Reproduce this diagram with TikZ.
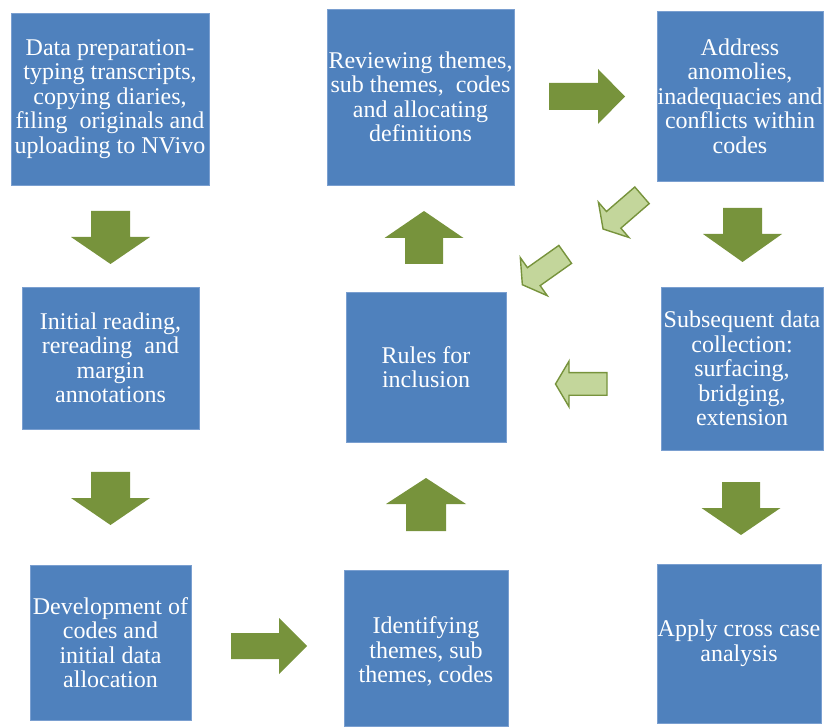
\documentclass[tikz,border=0pt]{standalone}
\usepackage{fontspec}
\setmainfont{Liberation Serif}
\definecolor{boxblue}{HTML}{4F81BD}
\definecolor{boxedge}{HTML}{7A9FD0}
\definecolor{olive}{HTML}{77933C}
\definecolor{paleolive}{HTML}{C3D69B}
\tikzset{
  stage/.style={rectangle, fill=boxblue, draw=boxedge, line width=0.7pt,
    inner sep=0pt, text=white, align=center,
    font=\fontsize{24}{24.5}\selectfont},
  mainarrow/.style={fill=olive, draw=none},
  feedarrow/.style={fill=paleolive, draw=olive, line width=1.4pt, line join=miter},
}
% block arrow: #1 style, (#2,#3) centre of the tail, #4 direction,
% #5 length, #6 shaft half-width, #7 head half-width, #8 head length
\newcommand\blockarr[8]{%
  \draw[#1, shift={(#2,#3)}, rotate=#4]
    (0,-#6) -- ({#5-#8},-#6) -- ({#5-#8},-#7) -- (#5,0)
    -- ({#5-#8},#7) -- ({#5-#8},#6) -- (0,#6) -- cycle;}
\begin{document}
\begin{tikzpicture}[x=1pt, y=1pt]
\useasboundingbox (0,0) rectangle (824,726);

% process stages
\node[stage, minimum width=198, minimum height=172] (prep) at (110,627)
  {Data preparation-\\typing transcripts,\\copying diaries,\\filing\ \ originals and\\uploading to NVivo};
\node[stage, minimum width=177, minimum height=142] (reading) at (110.5,368)
  {Initial reading,\\rereading\ \ and\\margin\\annotations};
\node[stage, minimum width=161, minimum height=155] (develop) at (110.5,83.5)
  {Development of\\codes and\\initial data\\allocation};
\node[stage, minimum width=164, minimum height=156] (identify) at (426,78)
  {};
\node[text=white, align=center, font=\fontsize{24}{24.5}\selectfont]
  (identifytext) at (426,74.5) {Identifying\\themes, sub\\themes, codes};
\node[stage, minimum width=160, minimum height=150] (rules) at (426,359)
  {Rules for\\inclusion};
\node[stage, minimum width=187, minimum height=176] (review) at (420.5,629)
  {Reviewing themes,\\sub themes,\ \ codes\\and allocating\\definitions};
\node[stage, minimum width=166, minimum height=170] (address) at (740,630)
  {Address\\anomolies,\\inadequacies and\\conflicts within\\codes};
\node[stage, minimum width=162, minimum height=163] (subseq) at (742,357.5)
  {Subsequent data\\collection:\\surfacing,\\bridging,\\extension};
\node[stage, minimum width=164, minimum height=159] (cross) at (739,82.5)
  {Apply cross case\\analysis};

% main flow arrows
\blockarr{mainarrow}{110.5}{515}{-90}{53}{19.5}{39.5}{27}
\blockarr{mainarrow}{110.5}{254}{-90}{53}{19.5}{39.5}{27}
\blockarr{mainarrow}{231}{80}{0}{76}{13}{28}{28}
\blockarr{mainarrow}{426}{195}{90}{53}{20}{40}{26}
\blockarr{mainarrow}{424}{462}{90}{53}{19}{39.5}{27}
\blockarr{mainarrow}{549}{629.5}{0}{76}{13.5}{27.5}{27}
\blockarr{mainarrow}{742.5}{518}{-90}{54}{19.5}{39.5}{28}
\blockarr{mainarrow}{741}{244}{-90}{53}{19}{39.5}{27}

% feedback arrows
\blockarr{feedarrow}{607}{342}{180}{51.5}{11.3}{22.8}{13.5}
\blockarr{feedarrow}{642}{530.7}{220.9}{51.5}{11}{23.3}{14}
\blockarr{feedarrow}{565.2}{471.6}{215.3}{52.5}{11}{23.3}{14}
\end{tikzpicture}
\end{document}
